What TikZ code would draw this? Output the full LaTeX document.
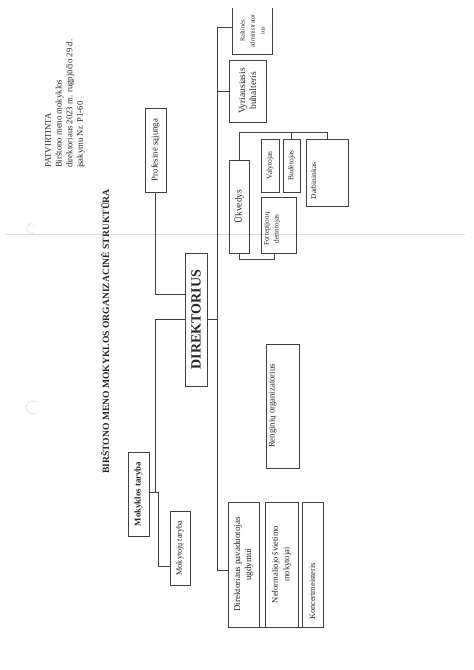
\documentclass[tikz,border=0pt]{standalone}
\usepackage{fontspec}
\setmainfont{Liberation Serif}
\usetikzlibrary{calc}

\begin{document}
\begin{tikzpicture}[x=1pt,y=-1pt,
  box/.style={draw=black!75,line width=0.8pt,rotate=90,inner sep=0pt,align=center,text=black!85},
  link/.style={draw=black!75,line width=0.8pt},
  scan/.style={draw=black!12,line width=0.7pt}]
  \useasboundingbox[fill=white] (0,0) rectangle (474,670);
  % scan marks
  \draw[scan] (5,234) -- (465,234);
  \draw[scan] (34,233) arc (60:300:5);
  \draw[scan] (36,413) arc (60:300:6.5);
  % header
  \node[rotate=90,anchor=west,inner sep=0pt,align=left,font=\fontsize{8.7}{10.7}\selectfont,text=black!85] (hdr) at (65,168)
    {PATVIRTINTA\\Birštono meno mokyklos\\direktoriaus 2023 m. rugpjūčio 29 d.\\įsakymu Nr. P1-60};
  \node[rotate=90,inner sep=0pt,font=\fontsize{9.6}{11}\selectfont\bfseries,text=black!85] (ttl) at (105,331.5)
    {BIRŠTONO MENO MOKYKLOS ORGANIZACINĖ STRUKTŪRA};
  % left side
  \node[box,minimum width=84,minimum height=21,font=\fontsize{8.8}{10}\selectfont] (prof) at (155.5,150) {Profesinė sąjunga};
  \node[box,minimum width=133,minimum height=22,font=\fontsize{14}{15}\selectfont\bfseries] (dir) at (196,319.5) {DIREKTORIUS};
  \node[box,minimum width=84,minimum height=21,font=\fontsize{8.8}{10}\selectfont\bfseries] (mt) at (138.5,494) {Mokyklos taryba};
  \node[box,minimum width=74,minimum height=20,font=\fontsize{8.2}{9}\selectfont] (mtj) at (180,548) {Mokytojų taryba};
  % right side
  \node[box,minimum width=46,minimum height=39,draw=none,font=\fontsize{6.3}{10}\selectfont] (ras) at (252.5,31) {Raštinės\\administrator\\ius};
  \node[box,minimum width=62,minimum height=37,font=\fontsize{9.5}{11}\selectfont] (vb) at (247.5,91) {Vyriausiasis\\buhalteris};
  \node[box,minimum width=93,minimum height=20,font=\fontsize{9.5}{11}\selectfont] (uk) at (239,206.5) {Ūkvedys};
  \node[box,minimum width=53,minimum height=18,font=\fontsize{7.5}{9}\selectfont] (val) at (270,165.5) {Valytojas};
  \node[box,minimum width=53,minimum height=17,font=\fontsize{7.5}{9}\selectfont] (bud) at (291.5,165.5) {Budėtojas};
  \node[box,minimum width=67,minimum height=42,font=\fontsize{7.5}{9}\selectfont] (dar) at (327,172.5) {\raisebox{11pt}[0pt][0pt]{Darbininkas}\hspace{17pt}};
  \node[box,minimum width=56,minimum height=35,font=\fontsize{7.2}{10}\selectfont] (fd) at (278.5,225) {\raisebox{0pt}[0pt][0pt]{\shortstack{Fortepijonų\\derintojas}}\hspace{8pt}};
  \node[box,minimum width=124,minimum height=33,font=\fontsize{8.7}{10}\selectfont] (ren) at (282.5,406) {\raisebox{8pt}[0pt][0pt]{Renginių organizatorius}};
  \node[box,minimum width=125,minimum height=31,font=\fontsize{9}{11}\selectfont] (dpu) at (243.5,564.5) {Direktoriaus pavaduotojas\\ugdymui};
  \node[box,minimum width=125,minimum height=33,font=\fontsize{8.5}{11.5}\selectfont] (nsm) at (281.5,564.5) {Neformaliojo švietimo\\mokytojai};
  \node[box,minimum width=125,minimum height=21,font=\fontsize{8.3}{10}\selectfont] (kon) at (312.5,564.5) {Koncertmeisteris\hspace{54pt}};
  \draw[link] (ras.north east) |- (ras.south west) -- (ras.south east);
  % connectors
  \coordinate (sptop) at (217,27);
  \draw[link] (prof.west) |- (dir.north west |- 0,294);
  \draw[link] (dir.north) -| ($(mt.south)+(6,-2)$);
  \draw[link] ($(mt.south)+(0,-2)$) -- ++(9,0) |- ($(mtj.north)+(0,18)$);
  \draw[link] (ras.north west |- sptop) -- (sptop) |- ($(dpu.north)+(0,5.5)$);
  \draw[link] (dir.south) -- (dir.south -| sptop);
  \draw[link] (vb.north) -- (vb.north -| sptop);
  \draw[link] ($(uk.north)+(0,-14.5)$) -- ($(uk.north)+(0,-14.5)$ -| sptop);
  \draw[link] ($(ren.north)+(0,7)$) -- ($(ren.north)+(0,7)$ -| sptop);
  % group brackets
  \path (uk.east) ++(0,-27) coordinate (ukbar);
  \draw[link] (uk.east) -- (ukbar) -| (dar.east);
  \draw[link] ($(val.east)+(-3,0)$) -- ($(val.east)+(-3,0)$ |- ukbar);
  \draw[link] (bud.east) -- (bud.east |- ukbar);
  \draw[link] (uk.west) -- ++(0,6) -| ($(fd.west)+(-4.5,0)$);
  \path (dpu.west) ++(0,13) coordinate (dpubar);
  \draw[link] ($(dpu.west)+(-4.5,0)$) -- ($(dpu.west)+(-4.5,0)$ |- dpubar) -| (kon.west);
  \draw[link] ($(nsm.west)+(-2.5,0)$) -- ($(nsm.west)+(-2.5,0)$ |- dpubar);
\end{tikzpicture}
\end{document}
